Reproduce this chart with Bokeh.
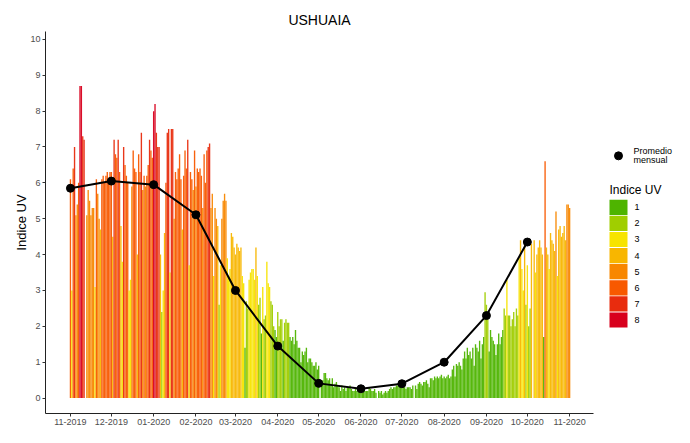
import math
import pandas as pd
from bokeh.plotting import figure
from bokeh.layouts import row
from bokeh.models import ColumnDataSource, Range1d, FixedTicker, DatetimeTickFormatter
from bokeh.core.properties import value
from bokeh.embed import file_html
from bokeh.resources import INLINE

FONT = "Liberation Sans"

# ---- daily UV index values, one list per month (None = missing day) ----
uv_nov_2019 = [6.1, 3.0, 6.4, 7.0, 5.1, 5.4, 6.0, 8.7, 8.7, 7.3, 7.2, None, 5.1, 5.8, 5.5,
               5.1, 5.3, 5.3, 3.1, 6.1, 5.7, 5.0, 4.7, 6.1, 6.2, 6.0, 6.2, 6.3, 6.0, 6.3]
uv_dec_2019 = [6.3, 4.5, 7.2, 6.8, 6.7, 7.2, 6.3, 4.8, 3.8, 7.0, 6.5, 6.2, 6.0, 3.0, 3.3, 5.9,
               6.9, 6.4, 6.3, 4.0, 6.8, 6.3, 7.4, 5.8, 6.2, 5.9, 6.2, 6.5, 7.2, 6.9, 6.7]
uv_jan_2020 = [8.0, 8.2, 7.4, 7.0, 7.0, 4.0, 2.4, 3.0, 4.6, 6.0, 7.4, 7.5, 3.5, 7.5, 7.5, 5.0,
               6.3, 6.1, 6.4, 6.8, 6.1, 4.7, 6.2, 6.9, 6.4, 7.2, 3.7, 6.3, 6.1, 5.8, 6.9]
uv_feb_2020 = [5.9, 6.4, 6.3, 6.4, 6.2, 5.3, 6.8, 6.0, 6.9, 7.0, 7.1, 5.3, 5.7, 3.4, 5.3,
               5.0, 4.8, 2.6, 3.7, 5.0, 5.5, 5.7, 5.5, 3.9, 3.4, 3.6, 4.6, 4.5, 4.2]
uv_mar_2020 = [4.0, 4.3, 4.2, 4.1, 4.2, 3.4, 3.2, 1.4, 2.7, 2.5, 3.3, 3.5, 3.6, 3.6, 3.3, 4.2,
               3.4, 2.6, 2.8, 1.8, 3.1, 2.2, 2.3, 3.8, 3.2, 3.1, 2.7, 2.6, 2.0, 1.9, 1.7]
uv_apr_2020 = [2.4, 2.0, 2.2, 2.2, 1.6, 2.1, 2.2, 2.1, 2.1, 1.7, 1.6, 1.7, 1.5, 1.9, 1.6,
               1.4, 1.4, 1.0, 1.3, 1.2, 1.3, 1.4, 1.0, 1.1, 1.1, 1.0, 0.9, 0.9, 1.0, 0.8]
uv_may_2020 = [0.9, None, 0.5, 0.5, 0.7, 0.7, 0.55, 0.5, 0.55, 0.4, 0.55, 0.3, 0.4, 0.45, 0.35,
               0.3, 0.2, 0.35, 0.25, 0.3, 0.2, 0.3, 0.3, 0.35, 0.25, 0.2, 0.2, 0.25, 0.2, 0.2, 0.25]
uv_jun_2020 = [0.2, 0.15, 0.25, 0.2, 0.2, 0.2, 0.3, 0.25, 0.2, 0.2, 0.25, 0.15, None, 0.2, 0.15,
               0.2, 0.1, 0.15, 0.2, 0.15, 0.2, 0.25, 0.3, 0.25, 0.3, 0.3, 0.35, 0.35, 0.4, 0.35]
uv_jul_2020 = [0.3, 0.35, 0.3, 0.25, 0.3, 0.3, 0.3, 0.25, 0.35, None, 0.35, 0.25, 0.4, 0.45, 0.4,
               0.35, 0.45, 0.45, 0.5, 0.4, 0.3, 0.55, 0.55, 0.5, 0.6, 0.55, 0.6, 0.55, 0.6, 0.65, 0.55]
uv_aug_2020 = [0.6, 0.55, 0.6, 0.65, 0.55, 0.6, 0.8, 0.9, 0.6, 0.95, 0.9, 1.0, 0.9, 0.8, 1.1,
               1.3, 1.1, 1.4, 1.2, 1.3, 1.1, 1.4, 0.9, 1.5, 1.4, 1.3, 1.6, 1.1, 1.5, 1.7, 2.95]
uv_sep_2020 = [2.6, 2.2, 1.3, 1.9, 1.7, 1.6, 1.5, 1.2, 1.5, 1.8, 1.5, 1.7, 1.9, 2.5, 2.3,
               3.3, 2.3, 2.3, 2.0, 2.2, 2.4, 2.0, 2.5, 2.3, 3.9, 4.4, 3.6, 3.0, 4.4, 2.6]
uv_oct_2020 = [3.7, 2.0, 2.5, 4.3, None, 4.4, 3.5, 4.0, 4.2, 4.4, 4.2, 4.0, 1.7, 6.6, 4.2, 4.0,
               3.6, 4.6, 4.4, 4.3, 4.1, 5.2, 3.4, 4.7, 4.8, 4.5, 4.6, 4.8, 4.4, 5.4, 5.4]
uv_nov_2020 = [5.3]

daily_months = [uv_nov_2019, uv_dec_2019, uv_jan_2020, uv_feb_2020, uv_mar_2020, uv_apr_2020,
                uv_may_2020, uv_jun_2020, uv_jul_2020, uv_aug_2020, uv_sep_2020, uv_oct_2020,
                uv_nov_2020]

# ---- month starts / tick labels and monthly means ----
month_starts = ["2019-11-01", "2019-12-01", "2020-01-01", "2020-02-01", "2020-03-01",
                "2020-04-01", "2020-05-01", "2020-06-01", "2020-07-01", "2020-08-01",
                "2020-09-01", "2020-10-01", "2020-11-01"]
tick_labels = ["11-2019", "12-2019", "01-2020", "02-2020", "03-2020", "04-2020", "05-2020",
               "06-2020", "07-2020", "08-2020", "09-2020", "10-2020", "11-2020"]
monthly_mean = [5.85, 6.05, 5.95, 5.11, 3.0, 1.45, 0.41, 0.26, 0.40, 1.0, 2.30, 4.35]

y_ticks = [0, 1, 2, 3, 4, 5, 6, 7, 8, 9, 10]

uv_levels = ["1", "2", "3", "4", "5", "6", "7", "8"]
uv_colors = ["#4eb400", "#a0ce00", "#f7e400", "#f8b600", "#f88700", "#f85900", "#e82c0e", "#d8001d"]

# ---- build bar table ----
dates, vals, cols = [], [], []
for start, month_vals in zip(month_starts, daily_months):
    days = pd.date_range(start, periods=len(month_vals), freq="D")
    for d, v in zip(days, month_vals):
        if v is None:
            continue
        lvl = min(len(uv_levels), max(1, int(math.floor(v))))
        dates.append(d)
        vals.append(v)
        cols.append(uv_colors[lvl - 1])
bars = ColumnDataSource(dict(date=dates, uv=vals, color=cols))

mean_dates = pd.to_datetime(month_starts[:len(monthly_mean)])
means = ColumnDataSource(dict(date=mean_dates, uv=monthly_mean))

DAY_MS = 86400000
x_start = pd.Timestamp(month_starts[0]) - pd.Timedelta(days=18.3)
x_end = pd.Timestamp(month_starts[-1]) + pd.Timedelta(days=17.5)

H = 427
p = figure(width=596, height=H, x_axis_type="datetime",
           x_range=Range1d(x_start, x_end), y_range=Range1d(-0.43, 10.22),
           output_backend="svg", toolbar_location=None, title="USHUAIA",
           min_border_left=45, min_border_right=3, min_border_top=31, min_border_bottom=0)

p.vbar(x="date", top="uv", bottom=0, width=1.0 * DAY_MS, fill_color="color",
       fill_alpha=0.95, line_color=None, source=bars)
p.line(x="date", y="uv", line_color="black", line_width=2, source=means)
p.scatter(x="date", y="uv", size=8, fill_color="black", line_color="black", source=means)

p.title.text_font = FONT
p.title.text_font_size = "14px"
p.title.text_font_style = "normal"
p.title.align = "center"
p.title.standoff = 8
p.title.text_color = "#000000"

p.xgrid.grid_line_color = None
p.ygrid.grid_line_color = None
p.outline_line_color = None
p.background_fill_color = "white"
p.border_fill_color = "white"

p.xaxis.ticker = FixedTicker(ticks=[pd.Timestamp(s).value // 10**6 for s in month_starts])
fmt = "%m-%Y"
p.xaxis.formatter = DatetimeTickFormatter(microseconds=fmt, milliseconds=fmt, seconds=fmt,
                                          minsec=fmt, minutes=fmt, hourmin=fmt, hours=fmt,
                                          days=fmt, months=fmt, years=fmt)
p.yaxis.ticker = FixedTicker(ticks=y_ticks)

for ax in (p.xaxis, p.yaxis):
    ax.axis_line_color = "#222222"
    ax.axis_line_width = 1
    ax.major_tick_line_color = "#333333"
    ax.major_tick_out = 3
    ax.major_tick_in = 0
    ax.minor_tick_line_color = None
    ax.major_label_text_font = FONT
    ax.major_label_text_font_size = "9px"
    ax.major_label_text_color = "#4d4d4d"
    ax.major_label_standoff = 2

p.yaxis.axis_label = "Indice UV"
p.yaxis.axis_label_text_font = FONT
p.yaxis.axis_label_text_font_size = "13px"
p.yaxis.axis_label_text_font_style = "normal"
p.yaxis.axis_label_text_color = "#000000"
p.yaxis.axis_label_standoff = -2

# ---- legend panel ----
LW = 78
leg = figure(width=LW, height=H, x_range=Range1d(0, LW), y_range=Range1d(H, 0),
             output_backend="svg", toolbar_location=None,
             x_axis_location=None, y_axis_location=None,
             min_border=0)
leg.outline_line_color = None
leg.xgrid.grid_line_color = None
leg.ygrid.grid_line_color = None

leg.scatter(x=[22], y=[139], size=8, fill_color="black", line_color="black")
leg.text(x=[37, 37], y=[134, 144], text=["Promedio", "mensual"], text_font=value(FONT),
         text_font_size="9px", text_baseline="middle", text_align="left", text_color="#000000")
leg.text(x=[13], y=[177], text=["Indice UV"], text_font=value(FONT), text_font_size="12px",
         text_baseline="middle", text_align="left", text_color="#000000")

sq_top = 188
pitch = 18
sq_y = [sq_top + pitch * i + (pitch - 1) / 2 for i in range(len(uv_levels))]
leg.rect(x=[22] * len(uv_levels), y=sq_y, width=18, height=pitch - 1,
         fill_color=uv_colors, line_color=None)
leg.text(x=[38] * len(uv_levels), y=sq_y, text=uv_levels, text_font=value(FONT),
         text_font_size="9px", text_baseline="middle", text_align="left", text_color="#000000")

layout = row(p, leg)
open("out.html", "w").write(file_html(layout, INLINE))
